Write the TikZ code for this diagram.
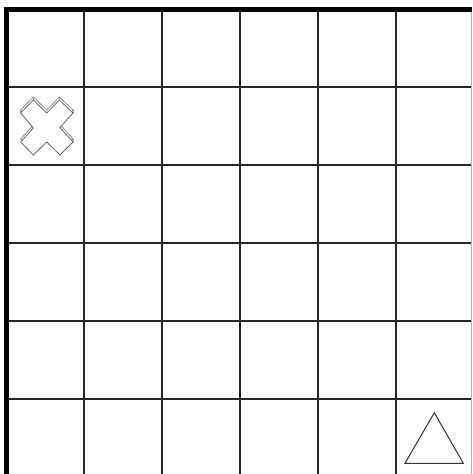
\documentclass[tikz,border=0pt]{standalone}
\begin{document}
\begin{tikzpicture}[x=1pt,y=-1pt,
  gridline/.style={draw=black!85,line width=1.3pt},
  thickbar/.style={draw=black,line width=5pt},
  shape3d/.style={draw=black!60,line width=0.8pt,line join=miter},
  tri/.style={draw=black!80,line width=1pt}]
\useasboundingbox (0,0) rectangle (472,474);
\fill[white] (0,0) rectangle (472,474);
% grid
\foreach \x in {84,162,240,318,396} \draw[gridline] (\x,12) -- (\x,474);
\foreach \y in {87,165,243,321,399} \draw[gridline] (8,\y) -- (472,\y);
\draw[draw=black!30,line width=1pt] (471,12) -- (471,474);
% thick borders
\draw[thickbar] (3.5,9.5) -- (472,9.5);
\draw[thickbar] (6,7) -- (6,474);
% cross (extruded)
\begin{scope}[shift={(0,-3)}]
\draw[shape3d,draw=black!45] (20.7,113) -- (33.3,100) -- (46.7,113) -- (59.3,100) -- (73,113) -- (60,127.5) -- (73,142) -- (60,155) -- (46.7,142) -- (33.3,155) -- (20.7,142) -- (33.3,128) -- cycle;
\end{scope}
\draw[shape3d,fill=white] (20.7,113) -- (33.3,100) -- (46.7,113) -- (59.3,100) -- (73,113) -- (60,127.5) -- (73,142) -- (60,155) -- (46.7,142) -- (33.3,155) -- (20.7,142) -- (33.3,128) -- cycle;
\draw[shape3d,draw=black!45] (20.7,110) -- (20.7,113) (73,110) -- (73,113) (73,139) -- (73,142) (33.3,97) -- (33.3,100) (59.3,97) -- (59.3,100);
% triangle
\node[coordinate] (ta) at (434.3,412.7) {};
\node[coordinate] (tb) at (405,463.3) {};
\node[coordinate] (tc) at (463.3,463.3) {};
\draw[tri] (ta) -- (tb) -- (tc) -- cycle;
\end{tikzpicture}
\end{document}
